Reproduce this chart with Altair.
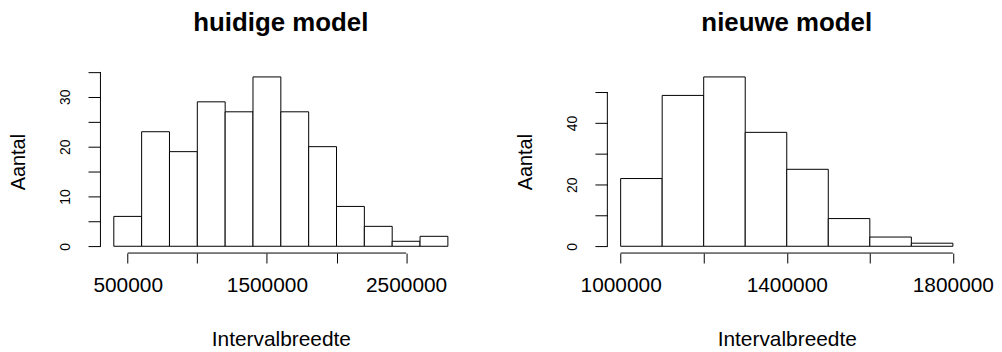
import json
import altair as alt
import pandas as pd

FONT = "Liberation Sans"

left_title = "huidige model"
right_title = "nieuwe model"
x_title = "Intervalbreedte"
y_title = "Aantal"

left_breaks = [400000, 600000, 800000, 1000000, 1200000, 1400000, 1600000,
               1800000, 2000000, 2200000, 2400000, 2600000, 2800000]
left_counts = [6, 23, 19, 29, 27, 34, 27, 20, 8, 4, 1, 2]
left_xticks = [500000, 1000000, 1500000, 2000000, 2500000]
left_xlabels = [500000, 1500000, 2500000]
left_yticks = [0, 5, 10, 15, 20, 25, 30, 35]
left_ylabels = [0, 10, 20, 30]

right_breaks = [1000000, 1100000, 1200000, 1300000, 1400000, 1500000,
                1600000, 1700000, 1800000]
right_counts = [22, 49, 55, 37, 25, 9, 3, 1]
right_xticks = [1000000, 1200000, 1400000, 1600000, 1800000]
right_xlabels = [1000000, 1400000, 1800000]
right_yticks = [0, 10, 20, 30, 40, 50]
right_ylabels = [0, 20, 40]

H = 184


def panel(breaks, counts, xticks, xlabels, yticks, ylabels, title, W):
    df = pd.DataFrame({"start": breaks[:-1], "end": breaks[1:], "count": counts})
    xr = breaks[-1] - breaks[0]
    xdom = [breaks[0] - 0.04 * xr, breaks[-1] + 0.04 * xr]
    ymax = max(counts)
    ydom = [-0.04 * ymax, 1.04 * ymax]
    xs = alt.Scale(domain=xdom, nice=False, zero=False)
    ys = alt.Scale(domain=ydom, nice=False, zero=False)

    xexpr = "indexof(" + json.dumps(xlabels) + ", datum.value) >= 0 ? format(datum.value, 'd') : ''"
    yexpr = "indexof(" + json.dumps(ylabels) + ", datum.value) >= 0 ? format(datum.value, 'd') : ''"

    xaxis = alt.Axis(values=xticks, labelExpr=xexpr, title=x_title, grid=False,
                     domain=False, ticks=True, tickSize=10, tickColor="black", tickWidth=1,
                     labelFont=FONT, labelFontSize=21, labelColor="black",
                     labelPadding=29, labelBaseline="alphabetic", labelAlign="center",
                     labelFlush=False, labelOverlap=False,
                     titleFont=FONT, titleFontSize=21, titleFontWeight="normal",
                     titleColor="black", titleBaseline="alphabetic", titleAlign="center",
                     titleX=W / 2, titleY=93)
    yaxis = alt.Axis(values=yticks, labelExpr=yexpr, title=y_title, grid=False,
                     domain=False, ticks=True, tickSize=12.5, tickColor="black", tickWidth=1,
                     labelFont=FONT, labelFontSize=14, labelColor="black",
                     labelAngle=270, labelAlign="center", labelBaseline="alphabetic",
                     labelPadding=19, labelFlush=False, labelOverlap=False,
                     titleFont=FONT, titleFontSize=20, titleFontWeight="normal",
                     titleColor="black", titleAngle=270, titleAlign="center",
                     titleBaseline="alphabetic", titleX=-76, titleY=H / 2)

    bars = alt.Chart(df).mark_rect(fill="white", stroke="black", strokeWidth=1).encode(
        x=alt.X("start:Q", scale=xs, axis=xaxis),
        x2="end:Q",
        y=alt.Y("count:Q", scale=ys, axis=yaxis),
        y2=alt.datum(0),
    )

    xline_df = pd.DataFrame({"a": [xticks[0]], "b": [xticks[-1]], "y": [ydom[0]]})
    xline = alt.Chart(xline_df).mark_rule(color="black", strokeWidth=1).encode(
        x=alt.X("a:Q", scale=xs, axis=xaxis),
        x2="b:Q",
        y=alt.Y("y:Q", scale=ys, axis=yaxis),
    )
    yline_df = pd.DataFrame({"x": [xdom[0]], "a": [yticks[0]], "b": [yticks[-1]]})
    yline = alt.Chart(yline_df).mark_rule(color="black", strokeWidth=1).encode(
        x=alt.X("x:Q", scale=xs, axis=xaxis),
        y=alt.Y("a:Q", scale=ys, axis=yaxis),
        y2="b:Q",
    )

    return alt.layer(bars, xline, yline).properties(
        width=W, height=H,
        title=alt.TitleParams(text=title, font=FONT, fontSize=26, fontWeight="bold",
                              color="black", anchor="middle", frame="group",
                              baseline="alphabetic", offset=13),
    )


left = panel(left_breaks, left_counts, left_xticks, left_xlabels, left_yticks,
             left_ylabels, left_title, 363)
right = panel(right_breaks, right_counts, right_xticks, right_xlabels, right_yticks,
              right_ylabels, right_title, 361)

chart = alt.hconcat(left, right, spacing=147, bounds="flush").configure_view(
    stroke=None
).properties(
    padding={"left": 1, "top": 1.5, "right": 0, "bottom": 0},
    background="white",
)

chart.save("out.html", embed_options={"renderer": "svg", "actions": False})
